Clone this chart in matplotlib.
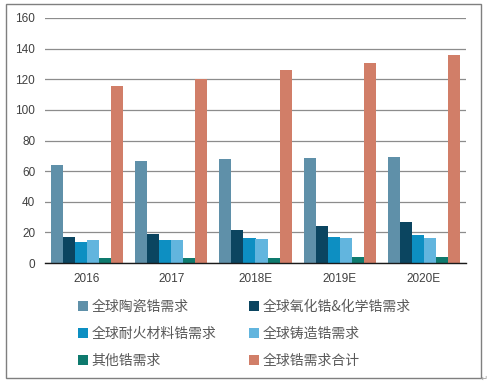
import matplotlib
matplotlib.use("Agg")
import matplotlib.pyplot as plt
import numpy as np
from matplotlib.patches import Rectangle

plt.rcParams['font.family'] = ['Noto Sans CJK SC', 'DejaVu Sans']

years = ["2016", "2017", "2018E", "2019E", "2020E"]
series_names = ["全球陶瓷锆需求", "全球氧化锆&化学锆需求", "全球耐火材料锆需求",
                "全球铸造锆需求", "其他锆需求", "全球锆需求合计"]
ceramic = [64, 66.7, 68, 68.6, 69.3]
oxide = [16.8, 18.7, 21.5, 24.2, 26.8]
refractory = [13.5, 15, 16.5, 17, 18.3]
casting = [15, 15, 15.9, 16.5, 16.5]
other = [3, 3, 3.5, 3.9, 3.9]
total = [115.7, 120, 126, 130.9, 136]
colors = ["#5F90A9", "#0B4560", "#0D8FC2", "#62B5DE", "#0E7A6E", "#D17E68"]
yticks = [0, 20, 40, 60, 80, 100, 120, 140, 160]

data = [ceramic, oxide, refractory, casting, other, total]

fig = plt.figure(figsize=(4.88, 3.89), dpi=100)
ax = fig.add_axes([45/488, 1-263/389, (466-45)/488, (263-18)/389])

x = np.arange(len(years))
n = len(data)
group_w = 0.857
bw = group_w / n
for i, (vals, c, name) in enumerate(zip(data, colors, series_names)):
    ax.bar(x - group_w/2 + bw*(i+0.5), vals, width=bw, color=c, label=name, zorder=3)

ax.set_xlim(-0.5, len(years)-0.5)
ax.set_ylim(0, 160)
ax.set_yticks(yticks)
ax.set_yticklabels([str(t) for t in yticks], fontsize=8.5, color="#404040", family="Liberation Sans")
ax.set_xticks(x)
ax.set_xticklabels(years, fontsize=8.5, color="#404040", family="Liberation Sans")
ax.tick_params(length=0, pad=7)
ax.yaxis.grid(True, color="#8C8C8C", linewidth=0.9, zorder=0)
for s in ["top", "right", "left"]:
    ax.spines[s].set_visible(False)
ax.spines["bottom"].set_color("#1a1a1a")
ax.spines["bottom"].set_linewidth(1.0)
ax.spines["bottom"].set_zorder(4)

handles, labels = ax.get_legend_handles_labels()
order = [0, 2, 4, 1, 3, 5]
leg = fig.legend([handles[i] for i in order], [labels[i] for i in order],
                 ncol=2, loc="upper left",
                 bbox_to_anchor=(65/488, 1-287/389), frameon=False,
                 fontsize=10, handlelength=0.75, handleheight=0.75,
                 handletextpad=0.25, columnspacing=2.35, labelspacing=0.95,
                 labelcolor="#595959")

fig.patches.append(Rectangle((6/488, 1-378/389), (481-6)/488, (378-4)/389,
                             transform=fig.transFigure, fill=False,
                             edgecolor="#7F7F7F", linewidth=1.0))
fig.text(484/488, 1-378/389, "↵", fontsize=6, color="#999999",
         ha="center", va="center", family="DejaVu Sans")

fig.savefig("out.png", dpi=100)
